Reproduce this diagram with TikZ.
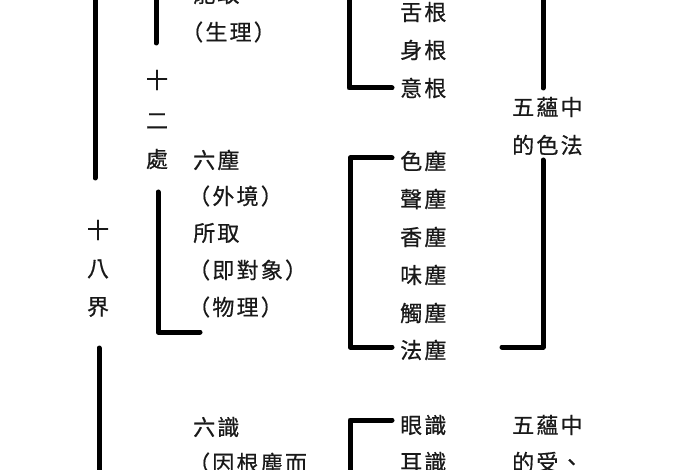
\documentclass[tikz,border=0pt]{standalone}
\usepackage{fontspec}
\newfontfamily\cjk[LetterSpace=10,FakeBold=0.6]{Noto Sans CJK TC}
\begin{document}
\begin{tikzpicture}[x=1pt,y=-1pt,
  txt/.style={anchor=west,inner sep=0pt,font=\cjk\fontsize{22}{26}\selectfont,text=black!90},
  vtxt/.style={anchor=center,inner sep=0pt,font=\cjk\fontsize{22}{26}\selectfont,text=black!90},
  brk/.style={line width=5pt,line cap=round,line join=round,black}]
\useasboundingbox (0,0) rectangle (700,470);
\fill[white] (0,0) rectangle (700,470);
\clip (0,0) rectangle (700,470);
% vertical labels
\node[vtxt] (a1) at (98,230) {十};
\node[vtxt] (a2) at (98,269) {八};
\node[vtxt] (a3) at (98,307) {界};
\node[vtxt] (b1) at (157,80) {十};
\node[vtxt] (b2) at (157,121) {二};
\node[vtxt] (b3) at (157,159) {處};
% left column
\node[txt] (l0) at (193,-6) {能取};
\node[txt] (l1) at (181,32) {（生理）};
\node[txt] (l2) at (193,160) {六塵};
\node[txt] (l3) at (188,196) {（外境）};
\node[txt] (l4) at (193,233) {所取};
\node[txt] (l5) at (188,270) {（即對象）};
\node[txt] (l6) at (188,307) {（物理）};
\node[txt] (l7) at (193,427) {六識};
\node[txt] (l8) at (188,463) {（因根塵而};
% middle column
\node[txt] (m1) at (400,12) {舌根};
\node[txt] (m2) at (400,50) {身根};
\node[txt] (m3) at (400,88) {意根};
\node[txt] (c1) at (400,161) {色塵};
\node[txt] (c2) at (400,199) {聲塵};
\node[txt] (c3) at (400,237) {香塵};
\node[txt] (c4) at (400,275) {味塵};
\node[txt] (c5) at (400,313) {觸塵};
\node[txt] (c6) at (400,350) {法塵};
\node[txt] (s1) at (400,425) {眼識};
\node[txt] (s2) at (400,462) {耳識};
% right column
\node[txt] (r1) at (512,107) {五蘊中};
\node[txt] (r2) at (512,145) {的色法};
\node[txt] (r3) at (512,425) {五蘊中};
\node[txt] (r4) at (512,462) {的受、};
% bracket coordinates
\coordinate (p1a) at (95,-6);   \coordinate (p1b) at (95,178);
\coordinate (p2a) at (99,348);  \coordinate (p2b) at (99,476);
\coordinate (p3a) at (156,-6);  \coordinate (p3b) at (156,43);
\coordinate (p4a) at (158,192); \coordinate (p4b) at (158,332); \coordinate (p4c) at (200,332);
\coordinate (p5a) at (349,-6);  \coordinate (p5b) at (349,88);  \coordinate (p5c) at (392,88);
\coordinate (p6a) at (392,158); \coordinate (p6b) at (350,158); \coordinate (p6c) at (350,347); \coordinate (p6d) at (392,347);
\coordinate (p7a) at (392,420); \coordinate (p7b) at (350,420); \coordinate (p7c) at (350,476);
\coordinate (p8a) at (543,-6);  \coordinate (p8b) at (543,88);
\coordinate (p9a) at (543,160); \coordinate (p9b) at (543,347); \coordinate (p9c) at (502,347);
\draw[brk] (p1a) -- (p1b);
\draw[brk] (p2a) -- (p2b);
\draw[brk] (p3a) -- (p3b);
\draw[brk] (p4a) -- (p4b) -- (p4c);
\draw[brk] (p5a) -- (p5b) -- (p5c);
\draw[brk] (p6a) -- (p6b) -- (p6c) -- (p6d);
\draw[brk] (p7a) -- (p7b) -- (p7c);
\draw[brk] (p8a) -- (p8b);
\draw[brk] (p9a) -- (p9b) -- (p9c);
\end{tikzpicture}
\end{document}
